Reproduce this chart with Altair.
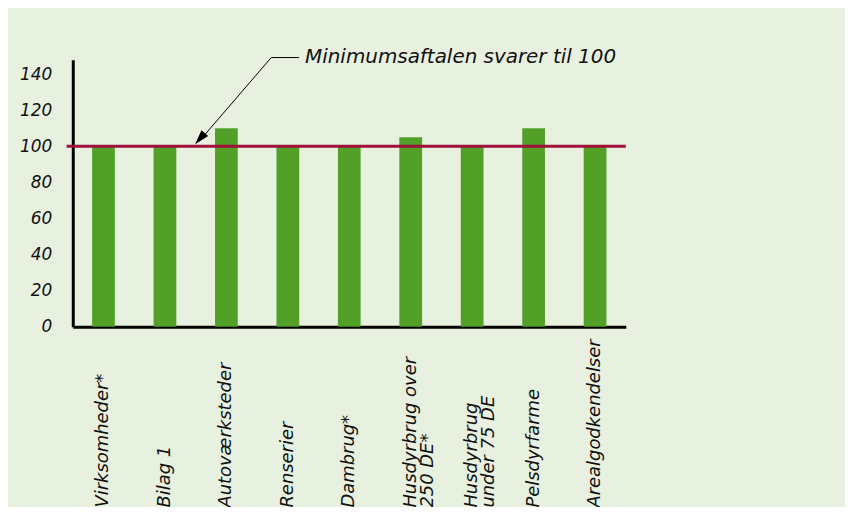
import altair as alt
import pandas as pd

categories = ["Virksomheder*", "Bilag 1", "Autoværksteder", "Renserier", "Dambrug*",
              "Husdyrbrug over\n250 DE*", "Husdyrbrug\nunder 75 DE", "Pelsdyrfarme", "Arealgodkendelser"]
values = [100, 100, 110, 100, 100, 105, 100, 110, 100]
y_ticks = [0, 20, 40, 60, 80, 100, 120, 140]
reference_value = 100
annotation_text = "Minimumsaftalen svarer til 100"

# annotation geometry in data units (x: category index space 0..9, y: value)
leader_x = [3.68, 3.23, 2.1]
leader_y = [149.2, 149.2, 104.5]
arrow_tip = {"x": 2.07, "y": 104.2}
text_pos = {"x": 3.78, "y": 149.5}

FONT = "DejaVu Sans"
BG = "#E8F0E0"
GREEN = "#52A028"
CRIMSON = "#A0103A"

df = pd.DataFrame({"cat": categories, "val": values})
yscale = alt.Scale(domain=[0, 148], nice=False)
xq = alt.Scale(domain=[0, 9], nice=False, zero=False)
y_axis = alt.Axis(values=y_ticks, ticks=False, tickSize=0, labelPadding=21,
                  labelOverlap=False, title=None,
                  labelFont=FONT, labelFontStyle="italic", labelFontSize=17,
                  labelColor="#111", domainColor="black", domainWidth=3, grid=False)

bars = alt.Chart(df).mark_bar(color=GREEN).encode(
    x=alt.X("cat:N", sort=None, title=None,
            scale=alt.Scale(paddingInner=0.63, paddingOuter=0.315),
            axis=alt.Axis(labelAngle=-90, labelAlign="left", labelBaseline="middle",
                          labelPadding=181, ticks=False, tickSize=0,
                          labelExpr="split(datum.label, '\\n')", labelOverlap=False,
                          labelLineHeight=17, labelFont=FONT, labelFontStyle="italic",
                          labelFontSize=18, labelColor="#111", labelLimit=0,
                          domainColor="black", domainWidth=3, grid=False)),
    y=alt.Y("val:Q", scale=yscale, title=None, axis=y_axis),
)

rule_df = pd.DataFrame({"x": [-0.1], "x2": [9.0], "y": [reference_value]})
rule = alt.Chart(rule_df).mark_rule(color=CRIMSON, strokeWidth=3).encode(
    x=alt.X("x:Q", scale=xq, axis=None), x2="x2:Q",
    y=alt.Y("y:Q", scale=yscale, title=None, axis=y_axis),
)

leader_df = pd.DataFrame({"x": leader_x, "y": leader_y, "o": range(len(leader_x))})
leader = alt.Chart(leader_df).mark_line(color="black", strokeWidth=1).encode(
    x=alt.X("x:Q", scale=xq, axis=None),
    y=alt.Y("y:Q", scale=yscale, title=None, axis=y_axis),
    order="o:O",
)

head = alt.Chart(pd.DataFrame([arrow_tip])).mark_point(
    shape="M0,-1L0.6,1L-0.6,1Z", filled=True, color="black", size=220, angle=221, opacity=1
).encode(
    x=alt.X("x:Q", scale=xq, axis=None),
    y=alt.Y("y:Q", scale=yscale, title=None, axis=y_axis),
)

label = alt.Chart(pd.DataFrame([{**text_pos, "t": annotation_text}])).mark_text(
    align="left", baseline="middle", font=FONT, fontStyle="italic", fontSize=20, color="#111"
).encode(
    x=alt.X("x:Q", scale=xq, axis=None),
    y=alt.Y("y:Q", scale=yscale, title=None, axis=y_axis),
    text="t:N",
)

chart = alt.layer(bars, rule, leader, head, label).resolve_scale(x="independent").properties(
    width=555, height=268,
    autosize=alt.AutoSizeParams(type="none"),
    padding={"left": 65, "top": 51, "right": 220, "bottom": 180},
    background=BG,
).configure_view(stroke=None)

chart.save("out.html", embed_options={"renderer": "svg", "actions": False})
